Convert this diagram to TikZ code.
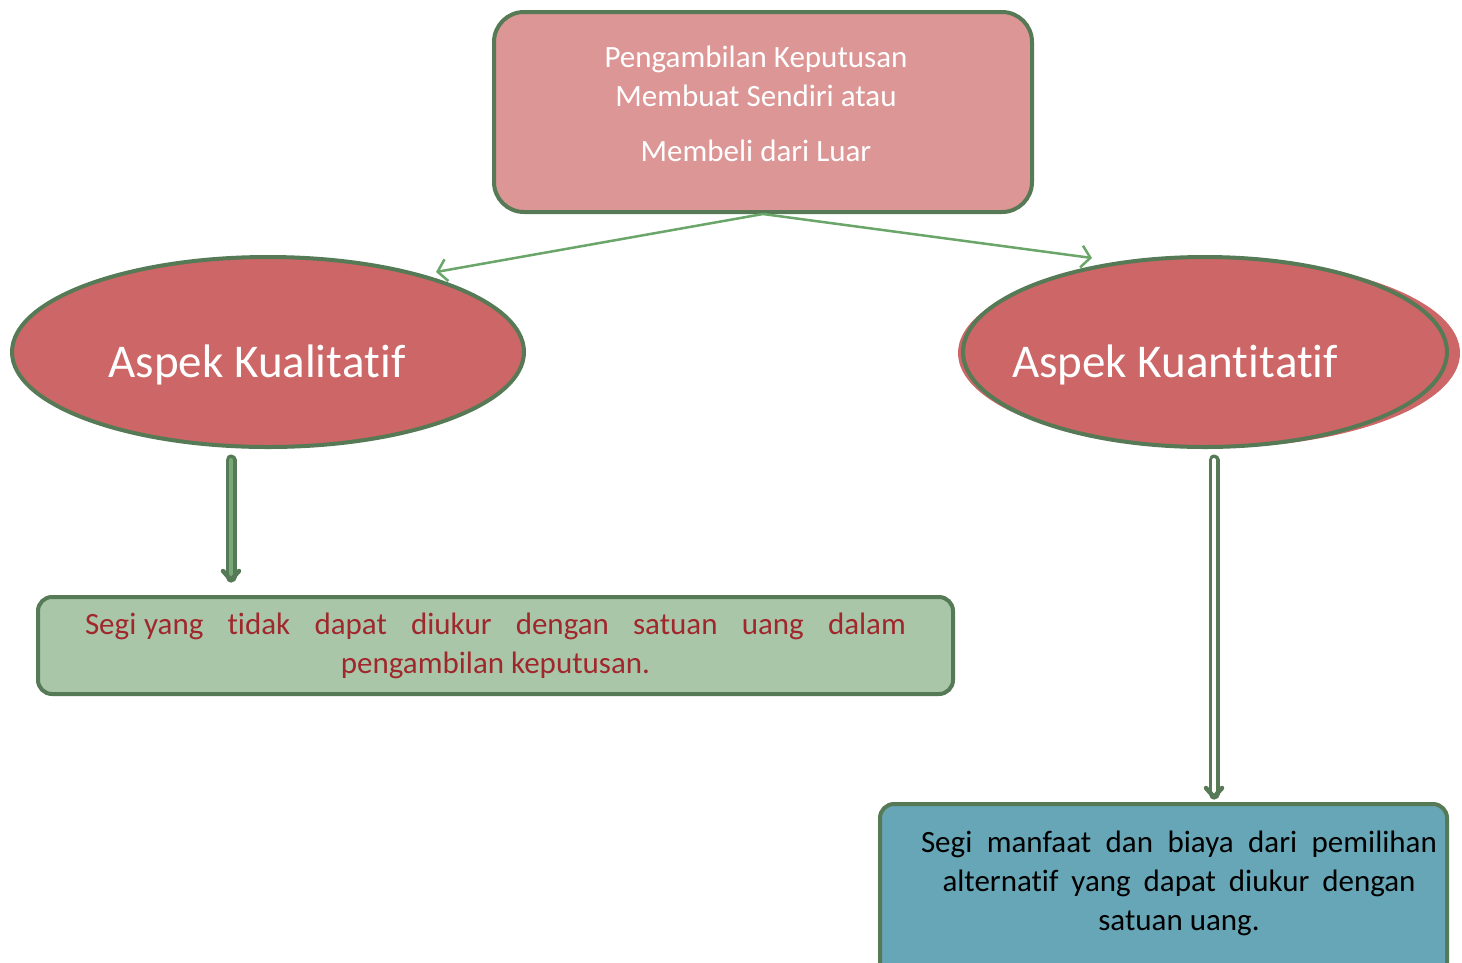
\documentclass[tikz,border=0pt]{standalone}
\usepackage{fontspec}
\setmainfont{Carlito}[RawFeature={-liga;-clig;-calt;-rlig;-dlig}]
\usetikzlibrary{shapes.geometric,arrows.meta,calc}
\newcommand{\brk}{\kern0pt{}}
\definecolor{bordergreen}{RGB}{85,122,85}
\definecolor{arrowgreen}{RGB}{106,165,106}
\definecolor{topfill}{RGB}{221,150,150}
\definecolor{ellfill}{RGB}{205,102,102}
\definecolor{boxgreen}{RGB}{169,198,169}
\definecolor{boxblue}{RGB}{102,166,182}
\definecolor{textred}{RGB}{160,40,45}
\definecolor{innergreen}{RGB}{120,168,120}
\tikzset{
  topbox/.style={draw=bordergreen, line width=4pt, fill=topfill, rounded corners=30pt,
    minimum width=538pt, minimum height=200pt, inner sep=0pt},
  toptext/.style={text=white, align=center, inner sep=0pt, font=\fontsize{31}{39}\selectfont},
  aspect/.style={ellipse, draw=bordergreen, line width=4pt, fill=ellfill, inner sep=0pt},
  aspectshadow/.style={ellipse, fill=ellfill, inner sep=0pt},
  aspecttext/.style={text=white, font=\fontsize{47}{56}\selectfont, inner sep=0pt},
  thinarrow/.style={draw=arrowgreen, line width=2.5pt, -{Straight Barb[length=9pt,width=22pt]}},
  dblshaft/.style={draw=bordergreen, line width=3.5pt, double distance=4pt, line cap=round},
  chevron/.style={draw=bordergreen, line width=4.5pt, line join=round, line cap=round},
  resultbox/.style={draw=bordergreen, line width=4pt, rounded corners=14pt, inner sep=0pt,
    align=center, font=\fontsize{31}{39}\selectfont}
}
\begin{document}
\begin{tikzpicture}[x=1pt,y=-1pt]
\useasboundingbox (0,0) rectangle (1462,962);
% top box
\node[topbox] (top) at (763,112) {};
\node[toptext] (topt) at (756,104) {Pengambilan Keputusan\\Membuat Sendiri atau\\[16pt]Membeli dari Luar};
% ellipses
\node[aspect, minimum width=512pt, minimum height=190pt] (kual) at (268,352) {};
\node[aspecttext] (kualt) at (257,365) {Aspek Kualit\brk at\brk if};
\node[aspectshadow, minimum width=502pt, minimum height=190pt] (kuanshadow) at (1209,353) {};
\node[aspect, minimum width=484pt, minimum height=190pt] (kuan) at (1205,352) {};
\node[aspecttext] (kuant) at (1175,365) {Aspek Kuant\brk it\brk at\brk if};
% result boxes
\node[resultbox, fill=boxgreen, text=textred, minimum width=915pt, minimum height=97pt] (qbox) at (495.5,645.5)
  {\makebox[821pt][s]{Segi\kern0.25em yang t\brk idak dapat diukur dengan satuan uang dalam}\\pengambilan keputusan.};
\node[resultbox, fill=boxblue, minimum width=567pt, minimum height=180pt, anchor=north] (nbox) at (1163.5,802) {};
\node[align=center, font=\fontsize{31}{39}\selectfont, inner sep=0pt] (nboxt) at (1179,883)
  {\makebox[516pt][s]{Segi manfaat dan biaya dari pemilihan}\\\makebox[473pt][s]{alternat\brk if yang dapat diukur dengan}\\satuan uang.};
% connectors
\coordinate (la) at (436,272);
\coordinate (ra) at (1092,258);
\draw[thinarrow] (top.south) -- (la);
\draw[thinarrow] (top.south) -- (ra);
\coordinate (ls) at (231,460);
\coordinate (le) at (231,580);
\coordinate (rs) at (1214,460);
\coordinate (re) at (1214,797);
\draw[dblshaft, double=innergreen] (ls) -- ($(le)+(0,-3)$);
\draw[chevron] ($(le)+(-8,-9)$) -- (le) -- ($(le)+(8,-9)$);
\draw[dblshaft, double=white] (rs) -- ($(re)+(0,-3)$);
\draw[chevron] ($(re)+(-8,-9)$) -- (re) -- ($(re)+(8,-9)$);
\end{tikzpicture}
\end{document}
